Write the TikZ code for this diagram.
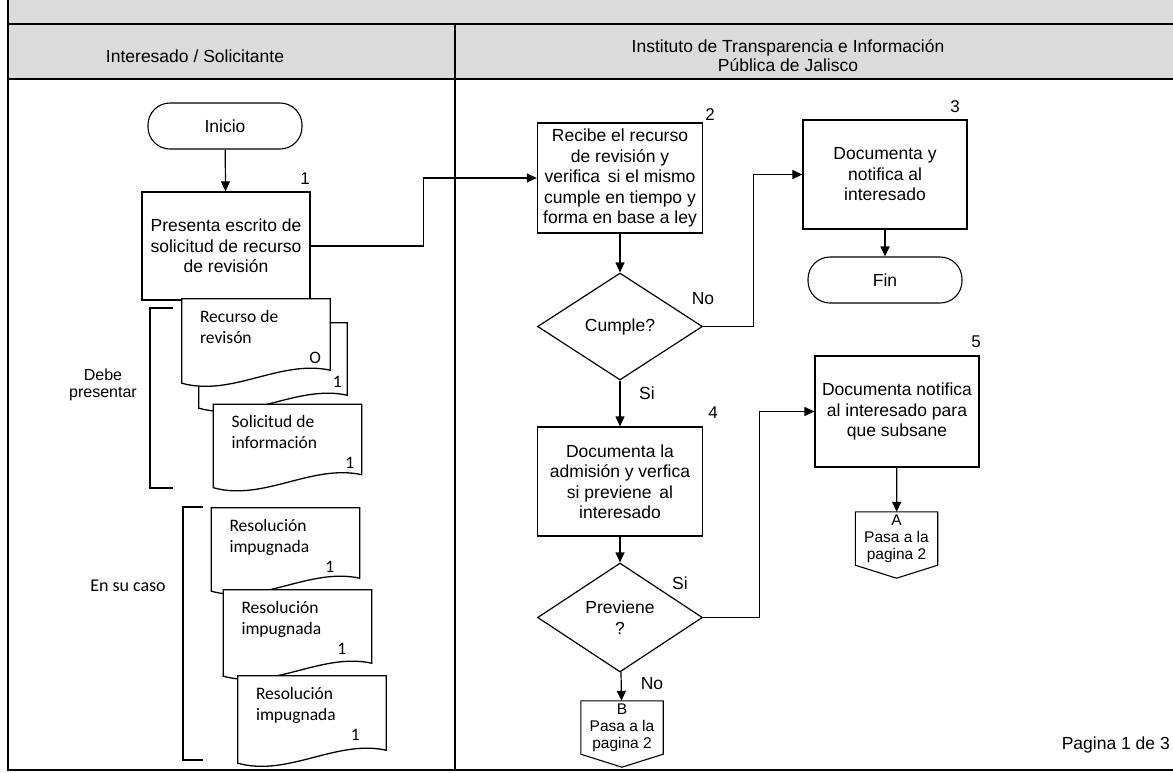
\documentclass[tikz,border=0pt]{standalone}
\usepackage{fontspec}
\setmainfont{Liberation Sans}
\newfontfamily\docfont{Carlito}
\usetikzlibrary{shapes.geometric,arrows.meta}
\definecolor{hdrgray}{gray}{0.86}

\begin{document}
\begin{tikzpicture}[
   x=1pt,y=-1pt,
   every node/.style={font=\fontsize{17.5}{20.5}\selectfont,inner sep=1pt},
   frame/.style={line width=2pt},
   proc/.style={draw,line width=1.3pt,align=center,minimum width=165pt,minimum height=109pt},
   term/.style={draw,line width=1.1pt,rounded corners=22pt,minimum width=154pt,minimum height=46pt},
   dec/.style={draw,line width=1.2pt,diamond,aspect=1.54,inner sep=0pt,align=center,minimum width=165pt,minimum height=108pt},
   docbox/.style={minimum width=148pt,inner sep=0pt},
   docline/.style={line width=1.3pt,fill=white},
   doctxt/.style={font=\docfont\fontsize{17.5}{21}\selectfont,align=left,anchor=north west},
   offp/.style={minimum width=82pt,minimum height=53pt,inner sep=0pt,align=center,font=\fontsize{15.5}{17}\selectfont},
   brk/.style={line width=1.2pt},
   flow/.style={line width=1.2pt,-{Triangle[length=10pt,width=9pt]}},
   num/.style={font=\fontsize{17}{20}\selectfont}
 ]
  \useasboundingbox (0,0) rectangle (1173,772);

  % lanes
  \fill[hdrgray] (8,0) rectangle (1173,79);
  \draw[frame] (8,0) -- (8,770) -- (1173,770);
  \draw[frame] (8,24) -- (1173,24);
  \draw[frame] (8,79) -- (1173,79);
  \draw[frame] (455,24) -- (455,770);
  \node (laneA) at (195,56) {Interesado / Solicitante};
  \node[align=center,font=\fontsize{17.5}{19}\selectfont] (laneB) at (788,56)
    {Instituto de Transparencia e Información\\Pública de Jalisco};

  % solicitante
  \node[term] (inicio) at (225,126) {Inicio};
  \node[proc,minimum width=168pt,minimum height=108pt] (box1) at (226,246)
    {Presenta escrito de\\solicitud de recurso\\de revisión};
  \node[num] (n1) at (305,179) {1};
  \draw[flow] (inicio) -- (box1);

  \foreach \n/\cx/\cy/\h/\txt/\num/\dx in {
      d2/273/365.5/85/{}/1/10,
      d1/256/341/84/{Recurso de\\revisón}/O/15,
      d3/287.5/446/83/{Solicitud de\\información}/1/12,
      r1/285.5/549.5/83/{Resolución\\impugnada}/1/30,
      r2/297.5/633/86/{Resolución\\impugnada}/1/30,
      r3/312/719.5/87/{Resolución\\impugnada}/1/31} {
    \node[docbox,minimum height=\h pt] (\n) at (\cx,\cy) {};
    \draw[docline] ([yshift=13pt]\n.south east) -- (\n.north east) -- (\n.north west)
      -- (\n.south west) .. controls +(50,14) and +(-50,-11) .. ([yshift=13pt]\n.south east) -- cycle;
    \node[doctxt] (\n-t) at ([xshift=17pt,yshift=-10pt]\n.north west) {\txt};
    \node[doctxt,anchor=center] (\n-n) at ([xshift=-\dx pt,yshift=-59pt]\n.north east) {\num};
  }

  \draw[brk] (173,308) -- (150,308) -- (150,488) -- (173,488);
  \draw[brk] (203,507) -- (183,507) -- (183,760) -- (203,760);
  \node[align=center,font=\fontsize{16}{16.5}\selectfont] (debe) at (103,385) {Debe\\presentar};
  \node[font=\docfont\fontsize{18}{21}\selectfont] (caso) at (128,586) {En su caso};

  % instituto
  \node[proc,minimum height=110pt] (box2) at (620,178)
    {Recibe el recurso\\de revisión y\\verifica\, si el mismo\\cumple en tiempo y\\forma en base a ley};
  \node[num] (n2) at (710,115) {2};
  \node[dec,minimum height=107pt] (cumple) at (620,326.5) {Cumple?};
  \node[proc,minimum width=164pt] (box3) at (885,174.5) {Documenta y\\notifica al\\interesado};
  \node[num] (n3) at (955,107) {3};
  \node[term] (fin) at (885,280) {Fin};
  \node[proc] (box4) at (620,481.5) {Documenta la\\admisión y verfica\\si previene\, al\\interesado};
  \node[num] (n4) at (713,413) {4};
  \node[dec,minimum height=109pt] (previene) at (620,617.5) {Previene\\?};
  \node[proc,minimum width=164pt,minimum height=111pt] (box5) at (897,411.5)
    {Documenta notifica\\al interesado para\\que subsane};
  \node[num] (n5) at (976,342) {5};

  \node[offp] (offB) at (622,727.5) {B\\Pasa a la\\pagina 2};
  \node[offp] (offA) at (896.5,538.5) {A\\Pasa a la\\pagina 2};
  \foreach \o in {offA,offB}
    \draw[line width=1.1pt] (\o.north west) -- (\o.south west) -- ([yshift=-13pt]\o.south)
      -- (\o.south east) -- (\o.north east) -- cycle;

  \draw[flow] (box1.east) -- ++(113,0) |- (box2.west);
  \draw[flow] (box2) -- (cumple);
  \draw[flow] (cumple.east) -- ++(50,0) |- (box3.west);
  \draw[flow] (box3) -- (fin);
  \draw[flow] (cumple) -- (box4);
  \draw[flow] (box4) -- (previene);
  \draw[flow] (previene.east) -- ++(56,0) |- (box5.west);
  \draw[flow] (previene) -- (offB);
  \draw[flow] (box5) -- (offA);
  \node (lno1) at (703,299) {No};
  \node (lsi1) at (647,393) {Si};
  \node (lsi2) at (680,583) {Si};
  \node (lno2) at (652,684) {No};

  \node[anchor=east] (pag) at (1171,745) {Pagina 1 de 3};
\end{tikzpicture}
\end{document}
